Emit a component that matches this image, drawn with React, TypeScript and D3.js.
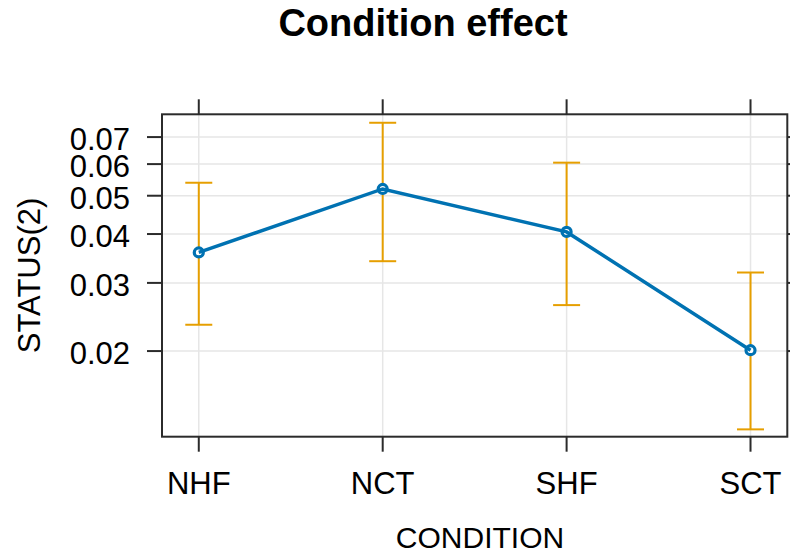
import React from "react";
import * as d3 from "d3";

// effect estimates on the response scale, with 95% limits
const categories = ["NHF", "NCT", "SHF", "SCT"];
const fit = [0.0359, 0.052, 0.0405, 0.0201];
const lower = [0.0234, 0.0341, 0.0263, 0.0125];
const upper = [0.0539, 0.0759, 0.0605, 0.0319];
const yTicks = [0.02, 0.03, 0.04, 0.05, 0.06, 0.07];
const yDomain = [0.01196, 0.0796];

const logit = (p: number) => Math.log(p / (1 - p));

const App = () => {
  const width = 790;
  const height = 553;
  const panel = { left: 162, right: 787.3, top: 114.3, bottom: 436.7 };
  const font = "'Liberation Sans', Arial, sans-serif";

  const x = d3
    .scalePoint<string>()
    .domain(categories)
    .range([panel.left, panel.right])
    .padding(0.2);

  // logit axis: linear in logit(p)
  const yLin = d3
    .scaleLinear()
    .domain(yDomain.map(logit))
    .range([panel.bottom, panel.top]);
  const y = (p: number) => yLin(logit(p));

  const line = d3
    .line<number>()
    .x((_, i) => x(categories[i])!)
    .y((d) => y(d));

  const axisColor = "#2b2b2b";
  const tickLen = 15;

  return (
    <svg
      width={width}
      height={height}
      style={{ position: "absolute", left: 0, top: 0, background: "#fff" }}
    >
      {/* grid */}
      {yTicks.map((t) => (
        <line
          key={"gy" + t}
          x1={panel.left}
          x2={panel.right}
          y1={y(t)}
          y2={y(t)}
          stroke="#e6e6e6"
          strokeWidth={1.5}
        />
      ))}
      {categories.map((c) => (
        <line
          key={"gx" + c}
          x1={x(c)}
          x2={x(c)}
          y1={panel.top}
          y2={panel.bottom}
          stroke="#e6e6e6"
          strokeWidth={1.5}
        />
      ))}

      {/* confidence intervals */}
      {categories.map((c, i) => (
        <g key={"ci" + c} stroke="#E69F00" strokeWidth={2}>
          <line x1={x(c)} x2={x(c)} y1={y(lower[i])} y2={y(upper[i])} />
          <line x1={x(c)! - 13.5} x2={x(c)! + 13.5} y1={y(lower[i])} y2={y(lower[i])} />
          <line x1={x(c)! - 13.5} x2={x(c)! + 13.5} y1={y(upper[i])} y2={y(upper[i])} />
        </g>
      ))}

      {/* fitted line and points */}
      {categories.map((c, i) => (
        <circle
          key={"pt" + c}
          cx={x(c)}
          cy={y(fit[i])}
          r={4.5}
          fill="#fff"
          stroke="#0072B2"
          strokeWidth={3.2}
        />
      ))}
      <path d={line(fit)!} fill="none" stroke="#0072B2" strokeWidth={3.5} />

      {/* panel border */}
      <rect
        x={panel.left}
        y={panel.top}
        width={panel.right - panel.left}
        height={panel.bottom - panel.top}
        fill="none"
        stroke={axisColor}
        strokeWidth={2}
      />

      {/* y ticks, left and right */}
      {yTicks.map((t) => (
        <g key={"ty" + t}>
          <line x1={panel.left - tickLen} x2={panel.left} y1={y(t)} y2={y(t)} stroke={axisColor} strokeWidth={2} />
          <line x1={panel.right} x2={panel.right + tickLen} y1={y(t)} y2={y(t)} stroke={axisColor} strokeWidth={2} />
          <text
            x={130}
            y={y(t)}
            dy="0.42em"
            textAnchor="end"
            fontFamily={font}
            fontSize={31}
            fill="#000"
          >
            {t}
          </text>
        </g>
      ))}

      {/* x ticks, bottom and top */}
      {categories.map((c) => (
        <g key={"tx" + c}>
          <line x1={x(c)} x2={x(c)} y1={panel.bottom} y2={panel.bottom + tickLen} stroke={axisColor} strokeWidth={2} />
          <line x1={x(c)} x2={x(c)} y1={panel.top - tickLen} y2={panel.top} stroke={axisColor} strokeWidth={2} />
          <text
            x={x(c)}
            y={494}
            textAnchor="middle"
            fontFamily={font}
            fontSize={31}
            fill="#000"
          >
            {c}
          </text>
        </g>
      ))}

      {/* titles */}
      <text
        x={423}
        y={36}
        textAnchor="middle"
        fontFamily={font}
        fontSize={38}
        fontWeight="bold"
        fill="#000"
      >
        Condition effect
      </text>
      <text
        x={480}
        y={548}
        textAnchor="middle"
        fontFamily={font}
        fontSize={30}
        fill="#000"
      >
        CONDITION
      </text>
      <text
        transform={`translate(40,${(panel.top + panel.bottom) / 2}) rotate(-90)`}
        textAnchor="middle"
        fontFamily={font}
        fontSize={31}
        fill="#000"
      >
        STATUS(2)
      </text>
    </svg>
  );
};

export default App;
